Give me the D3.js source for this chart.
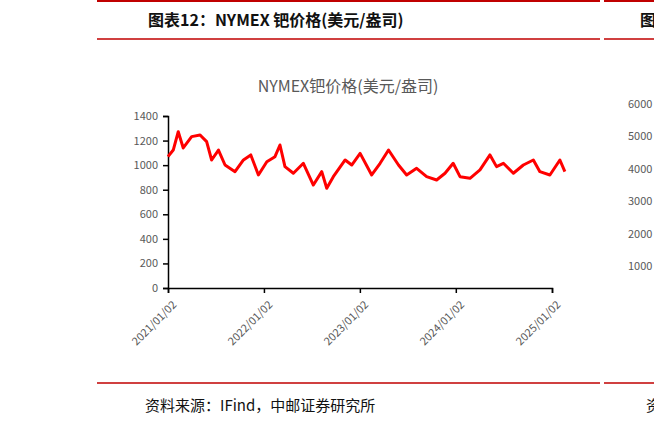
<!DOCTYPE html>
<html><head><meta charset="utf-8">
<script src="https://cdn.jsdelivr.net/npm/d3@7"></script>
<style>body{margin:0;background:#fff}text{font-family:"Noto Sans CJK SC",sans-serif}</style>
</head><body>
<script>
var dates = ["2021-01-02","2021-01-22","2021-02-10","2021-03-01","2021-04-02","2021-05-04","2021-05-29","2021-06-17","2021-07-13","2021-08-07","2021-09-14","2021-10-16","2021-11-13","2021-12-12",
"2022-01-13","2022-02-13","2022-03-04","2022-03-23","2022-04-24","2022-06-01","2022-07-09","2022-08-10","2022-08-29","2022-09-23","2022-11-07","2022-12-02",
"2023-01-03","2023-02-16","2023-03-20","2023-04-21","2023-05-29","2023-06-29","2023-08-06","2023-09-13","2023-10-21","2023-11-22","2023-12-23",
"2024-01-18","2024-02-25","2024-04-03","2024-05-11","2024-06-05","2024-07-01","2024-08-08","2024-09-15","2024-10-23","2024-11-17","2024-12-25","2025-02-01","2025-02-20"];
var prices = [1069,1123,1272,1140,1232,1245,1191,1042,1123,1001,947,1042,1083,920,
1028,1069,1164,988,934,1015,838,947,812,906,1042,1001,
1096,920,1015,1123,1001,920,974,906,879,934,1015,
906,893,961,1083,988,1015,934,1001,1042,947,920,1042,947];
var yTicks = [0,200,400,600,800,1000,1200,1400];
var xTicks = ["2021-01-02","2022-01-02","2023-01-02","2024-01-02","2025-01-02"];
var rightTicks = ["6000","5000","4000","3000","2000","1000"];

var svg = d3.select("body").append("svg").attr("width",654).attr("height",424);
var p = d3.timeParse("%Y-%m-%d"), f = d3.timeFormat("%Y/%m/%d");
var x = d3.scaleTime().domain([p("2021-01-02"),p("2025-01-02")]).range([168,552]);
var y = d3.scaleLinear().domain([0,1400]).range([288,116]);

// frame lines
[[1,"#c00000",2],[39,"#c00000",1.5],[383,"#c00000",1.5]].forEach(function(l){
  svg.append("line").attr("x1",97).attr("x2",600).attr("y1",l[0]).attr("y2",l[0]).attr("stroke",l[1]).attr("stroke-width",l[2]);
  svg.append("line").attr("x1",604).attr("x2",654).attr("y1",l[0]).attr("y2",l[0]).attr("stroke",l[1]).attr("stroke-width",l[2]);
});
svg.append("text").attr("x",148).attr("y",26).attr("font-size",16).attr("font-weight","bold").attr("fill","#111").text("图表12：NYMEX 钯价格(美元/盎司)");
svg.append("text").attr("x",640).attr("y",26).attr("font-size",16).attr("font-weight","bold").attr("fill","#111").text("图");
svg.append("text").attr("x",145).attr("y",411).attr("font-size",15).attr("fill","#111").text("资料来源：IFind，中邮证券研究所");
svg.append("text").attr("x",646).attr("y",411).attr("font-size",15).attr("fill","#111").text("资");
svg.append("text").attr("x",348).attr("y",92).attr("text-anchor","middle").attr("font-size",16).attr("fill","#595959").text("NYMEX钯价格(美元/盎司)");

var ya = svg.append("g").attr("transform","translate(168,0)").call(d3.axisLeft(y).tickValues(yTicks).tickFormat(d3.format("d")).tickSize(5).tickPadding(5));
ya.selectAll("text").attr("font-size",11).attr("fill","#595959");
var xa = svg.append("g").attr("transform","translate(0,288)").call(d3.axisBottom(x).tickValues(xTicks.map(p)).tickFormat(f).tickSize(5));
xa.selectAll("text").attr("font-size",11).attr("fill","#595959").attr("text-anchor","end")
  .attr("transform","translate(0,4) rotate(-45)").attr("dx","-0.3em").attr("dy","0.7em");
svg.selectAll(".domain,.tick line").attr("stroke","#000").attr("stroke-width",1.5);

svg.append("path").datum(dates.map(function(d,i){return [p(d),prices[i]];}))
  .attr("fill","none").attr("stroke","#ff0000").attr("stroke-width",3).attr("stroke-linejoin","round")
  .attr("d",d3.line().x(function(d){return x(d[0]);}).y(function(d){return y(d[1]);}));

rightTicks.forEach(function(t,i){
  svg.append("text").attr("x",628).attr("y",108+i*32.4).attr("font-size",11).attr("fill","#595959").text(t);
});
</script>
</body></html>
